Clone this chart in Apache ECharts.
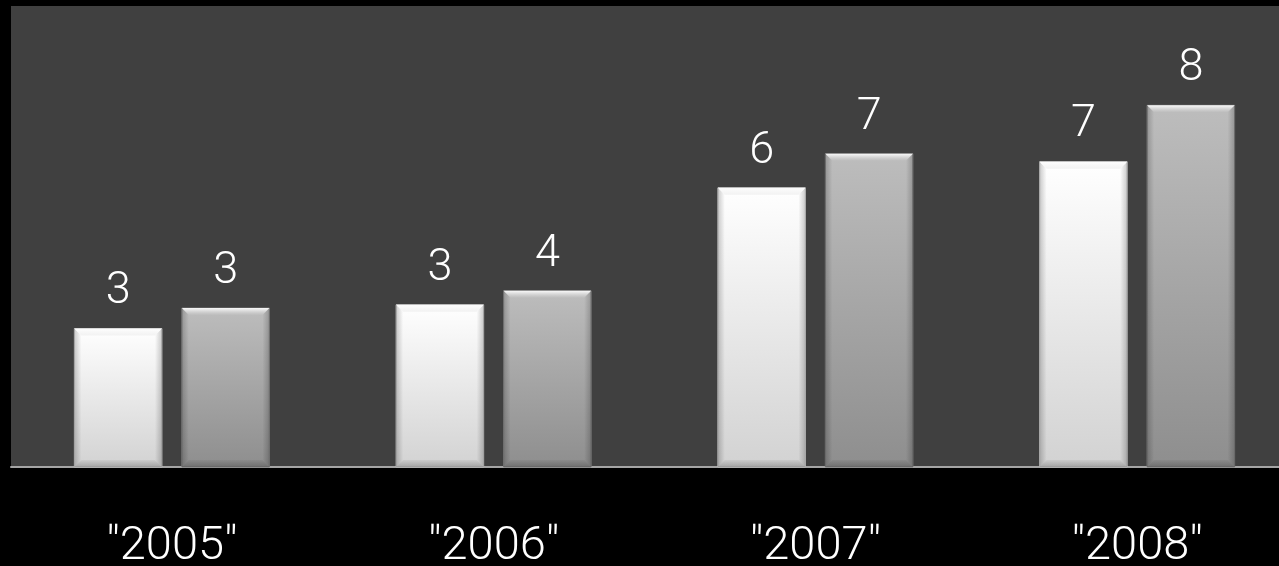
<!DOCTYPE html>
<html>
<head>
<meta charset="utf-8">
<script src="https://cdn.jsdelivr.net/npm/echarts@6/dist/echarts.min.js"></script>
<style>
  html, body { margin: 0; padding: 0; background: #000; }
  #chart { width: 1279px; height: 566px; }
</style>
</head>
<body>
<div id="chart"></div>
<script>
// Category labels along the bottom axis
const categories = ['"2005"', '"2006"', '"2007"', '"2008"'];
// Values of the light (white) bars
const lightValues = [2.97, 3.48, 5.99, 6.55];
// Values of the grey bars
const greyValues = [3.41, 3.78, 6.72, 7.76];

const FONT = 'Roboto, "Liberation Sans", Arial, sans-serif';

const chart = echarts.init(document.getElementById('chart'), null, { renderer: 'canvas' });

// Bevelled bar: body gradient, darker side/bottom edges, lighter top edge, value label above
function bevelBar(side, pal) {
  return function (params, api) {
    const cat = api.value(0);
    const val = api.value(1);
    const top = api.coord([cat, val]);
    const base = api.coord([cat, 0]);
    const band = api.size([1, 0])[0];
    const w = band * 0.272;
    const gap = band * 0.062;
    const cx = top[0] + side * (w + gap) / 2;
    const x0 = cx - w / 2, x1 = cx + w / 2;
    const y0 = top[1], y1 = base[1];
    const b = 7;
    const lin = (x, y, x2, y2, c0, c1) => new echarts.graphic.LinearGradient(x, y, x2, y2, [
      { offset: 0, color: c0 }, { offset: 1, color: c1 }
    ]);
    return {
      type: 'group',
      children: [
        { type: 'rect', shape: { x: x0, y: y0, width: w, height: y1 - y0 },
          style: { fill: lin(0, 0, 0, 1, pal.top, pal.bottom), stroke: pal.stroke, lineWidth: 1 } },
        { type: 'polygon', shape: { points: [[x0, y0], [x0 + b, y0 + b], [x0 + b, y1 - b], [x0, y1]] },
          style: { fill: lin(0, 0, 1, 0, pal.edge, 'rgba(0,0,0,0)') } },
        { type: 'polygon', shape: { points: [[x1, y0], [x1 - b, y0 + b], [x1 - b, y1 - b], [x1, y1]] },
          style: { fill: lin(1, 0, 0, 0, pal.edge, 'rgba(0,0,0,0)') } },
        { type: 'polygon', shape: { points: [[x0, y0], [x1, y0], [x1 - b, y0 + b], [x0 + b, y0 + b]] },
          style: { fill: lin(0, 0, 0, 1, pal.hi, pal.hiEnd) } },
        { type: 'polygon', shape: { points: [[x0 + b, y1 - b], [x1 - b, y1 - b], [x1, y1], [x0, y1]] },
          style: { fill: lin(0, 0, 0, 1, 'rgba(0,0,0,0.04)', 'rgba(0,0,0,0.22)') } },
        { type: 'text', x: cx, y: y0 - 14,
          style: { text: String(Math.round(val)), fill: '#ffffff', font: '300 45px ' + FONT,
                   align: 'center', verticalAlign: 'bottom' } }
      ]
    };
  };
}

const lightPalette = { top: '#ffffff', bottom: '#d2d2d2', stroke: '#bdbdbd', edge: 'rgba(0,0,0,0.2)',
                       hi: 'rgba(255,255,255,0.9)', hiEnd: 'rgba(235,235,235,0.6)' };
const greyPalette = { top: '#bdbdbd', bottom: '#8e8e8e', stroke: '#7a7a7a', edge: 'rgba(0,0,0,0.2)',
                      hi: 'rgba(250,250,250,1)', hiEnd: 'rgba(190,190,190,0.6)' };

chart.setOption({
  backgroundColor: '#000000',
  animation: false,
  grid: { left: 11, top: 6, width: 1287, height: 461, show: true, backgroundColor: '#404040',
          borderWidth: 0, containLabel: false, outerBoundsMode: 'none' },
  xAxis: {
    type: 'category',
    data: categories,
    axisLine: { show: true, lineStyle: { color: '#a5a5a5', width: 2 } },
    axisTick: { show: false },
    axisLabel: { color: '#ffffff', fontSize: 47, fontWeight: 300, fontFamily: FONT,
                 margin: 80, verticalAlign: 'middle', interval: 0 },
    splitLine: { show: false }
  },
  yAxis: { type: 'value', min: 0, max: 9.89, show: false, splitLine: { show: false } },
  series: [
    { type: 'custom', name: 'light', renderItem: bevelBar(-1, lightPalette), encode: { x: 0, y: 1 },
      data: lightValues.map((v, i) => [i, v]) },
    { type: 'custom', name: 'grey', renderItem: bevelBar(1, greyPalette), encode: { x: 0, y: 1 },
      data: greyValues.map((v, i) => [i, v]) }
  ]
});
</script>
</body>
</html>
